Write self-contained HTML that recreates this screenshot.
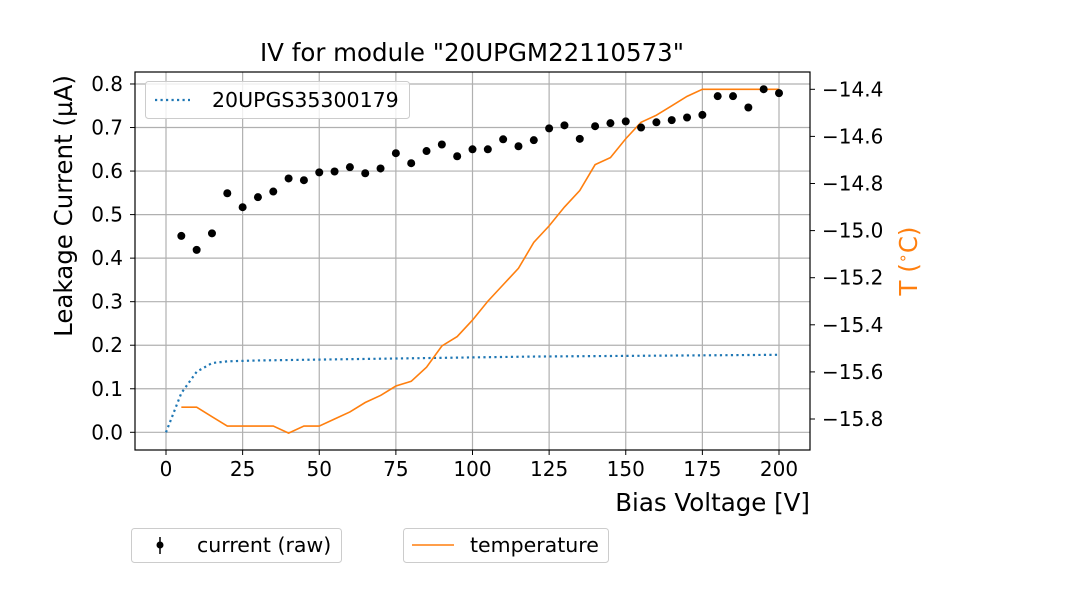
<!DOCTYPE html>
<html><head><meta charset="utf-8"><style>
body{margin:0;background:#fff;}
svg{display:block;font-family:"DejaVu Sans","Liberation Sans",sans-serif;}
</style></head><body>
<svg id="chart" width="1080" height="600" viewBox="0 0 1080 600" xmlns="http://www.w3.org/2000/svg">
<rect width="1080" height="600" fill="#fff"/>
<text x="472" y="61" font-size="24.5" text-anchor="middle">IV for module "20UPGM22110573"</text>
<g id="grid"></g>
<g id="marks"></g>
<g id="axes"></g>
<text transform="translate(72,206) rotate(-90)" font-size="24.5" text-anchor="middle">Leakage Current (µA)</text>
<text transform="translate(917,261) rotate(-90)" font-size="24.5" text-anchor="middle" fill="#ff7f0e">T (<tspan font-size="16" dy="-9">∘</tspan><tspan dy="9">C)</tspan></text>
<text x="810" y="511" font-size="24.5" text-anchor="end">Bias Voltage [V]</text>
<g>
<rect x="145.5" y="81.5" width="264" height="37" rx="3" fill="#fff" fill-opacity="0.8" stroke="#ccc"/>
<line x1="155" y1="100" x2="190" y2="100" stroke="#1f77b4" stroke-width="2.2" stroke-dasharray="2.2,3.3"/>
<text x="212" y="107" font-size="20.5">20UPGS35300179</text>
</g>
<g>
<rect x="131.5" y="528.5" width="210" height="34" rx="3" fill="#fff" stroke="#ccc"/>
<line x1="160" y1="537" x2="160" y2="554" stroke="#000" stroke-width="1.5"/>
<circle cx="160" cy="545" r="3.5" fill="#000"/>
<text x="197" y="552" font-size="20.5">current (raw)</text>
</g>
<g>
<rect x="403.5" y="528.5" width="205" height="34" rx="3" fill="#fff" stroke="#ccc"/>
<line x1="412" y1="545" x2="454" y2="545" stroke="#ff7f0e" stroke-width="1.5"/>
<text x="470" y="552" font-size="20.5">temperature</text>
</g>
</svg>
<script>
const voltages=[5,10,15,20,25,30,35,40,45,50,55,60,65,70,75,80,85,90,95,100,105,110,115,120,125,130,135,140,145,150,155,160,165,170,175,180,185,190,195,200];
const currentValues=[0.451,0.419,0.457,0.549,0.517,0.540,0.553,0.583,0.579,0.597,0.599,0.609,0.595,0.606,0.641,0.618,0.646,0.661,0.634,0.650,0.650,0.673,0.657,0.671,0.698,0.705,0.674,0.703,0.710,0.714,0.700,0.712,0.717,0.723,0.729,0.772,0.772,0.746,0.788,0.779];
const temperatureValues=[-15.75,-15.75,-15.79,-15.83,-15.83,-15.83,-15.83,-15.86,-15.83,-15.83,-15.80,-15.77,-15.73,-15.70,-15.66,-15.64,-15.58,-15.49,-15.45,-15.38,-15.30,-15.23,-15.16,-15.05,-14.98,-14.90,-14.83,-14.72,-14.69,-14.61,-14.54,-14.51,-14.47,-14.43,-14.40,-14.40,-14.40,-14.40,-14.40,-14.40];
const sensorVoltages=[0,5,10,15,20,25,30,40,50,60,80,100,120,140,160,180,200];
const sensorValues=[0,0.09,0.139,0.159,0.163,0.164,0.165,0.166,0.167,0.168,0.170,0.172,0.174,0.175,0.176,0.177,0.178];
const xTicks=[0,25,50,75,100,125,150,175,200];
const yTicks=[0,0.1,0.2,0.3,0.4,0.5,0.6,0.7,0.8];
const y2Ticks=[-15.8,-15.6,-15.4,-15.2,-15.0,-14.8,-14.6,-14.4];
const L=135,R=810,T=72,B=450;
const xs=v=>166+v*(779-166)/200;
const ys=v=>432.3-v*435.4;
const y2s=v=>89.3-(v+14.4)*235.5;
const NS='http://www.w3.org/2000/svg';
function mk(tag,attrs,parent){const e=document.createElementNS(NS,tag);for(const k in attrs)e.setAttribute(k,attrs[k]);parent.appendChild(e);return e;}
const grid=document.getElementById('grid'),marks=document.getElementById('marks'),axes=document.getElementById('axes');
xTicks.forEach(t=>{
  const g=mk('line',{x1:xs(t),x2:xs(t),y1:T,y2:B,stroke:'#b0b0b0','stroke-width':1.2},grid);
  
  
  mk('line',{x1:xs(t),x2:xs(t),y1:B,y2:B+5,stroke:'#000'},axes);
  const tx=mk('text',{x:xs(t),y:B+26,'font-size':20,'text-anchor':'middle'},axes);
  tx.textContent=t;
  
  
});
yTicks.forEach(t=>{
  const g=mk('line',{x1:L,x2:R,y1:ys(t),y2:ys(t),stroke:'#b0b0b0','stroke-width':1.2},grid);
  
  
  mk('line',{x1:L-5,x2:L,y1:ys(t),y2:ys(t),stroke:'#000'},axes);
  const tx=mk('text',{x:L-12,y:ys(t)+7,'font-size':20,'text-anchor':'end'},axes);
  tx.textContent=t.toFixed(1);
  
  
});
y2Ticks.forEach(t=>{
  mk('line',{x1:R,x2:R+5,y1:y2s(t),y2:y2s(t),stroke:'#000'},axes);
  const tx=mk('text',{x:R+12,y:y2s(t)+7,'font-size':20},axes);
  tx.textContent='\u2212'+Math.abs(t).toFixed(1);
  
  
});
const frame=mk('rect',{x:L,y:T,width:R-L,height:B-T,fill:'none',stroke:'#000','stroke-width':1.2},axes);


const sl=mk('polyline',{points:sensorVoltages.map((v,i)=>xs(v)+','+ys(sensorValues[i])).join(' '),fill:'none',stroke:'#1f77b4','stroke-width':2.2,'stroke-dasharray':'2.2,3.3'},marks);


const tl=mk('polyline',{points:voltages.map((v,i)=>xs(v)+','+y2s(temperatureValues[i])).join(' '),fill:'none',stroke:'#ff7f0e','stroke-width':1.6},marks);


voltages.forEach((v,i)=>{
  const c=mk('circle',{cx:xs(v),cy:ys(currentValues[i]),r:4,fill:'#000'},marks);
  
  
});
</script>
</body></html>
